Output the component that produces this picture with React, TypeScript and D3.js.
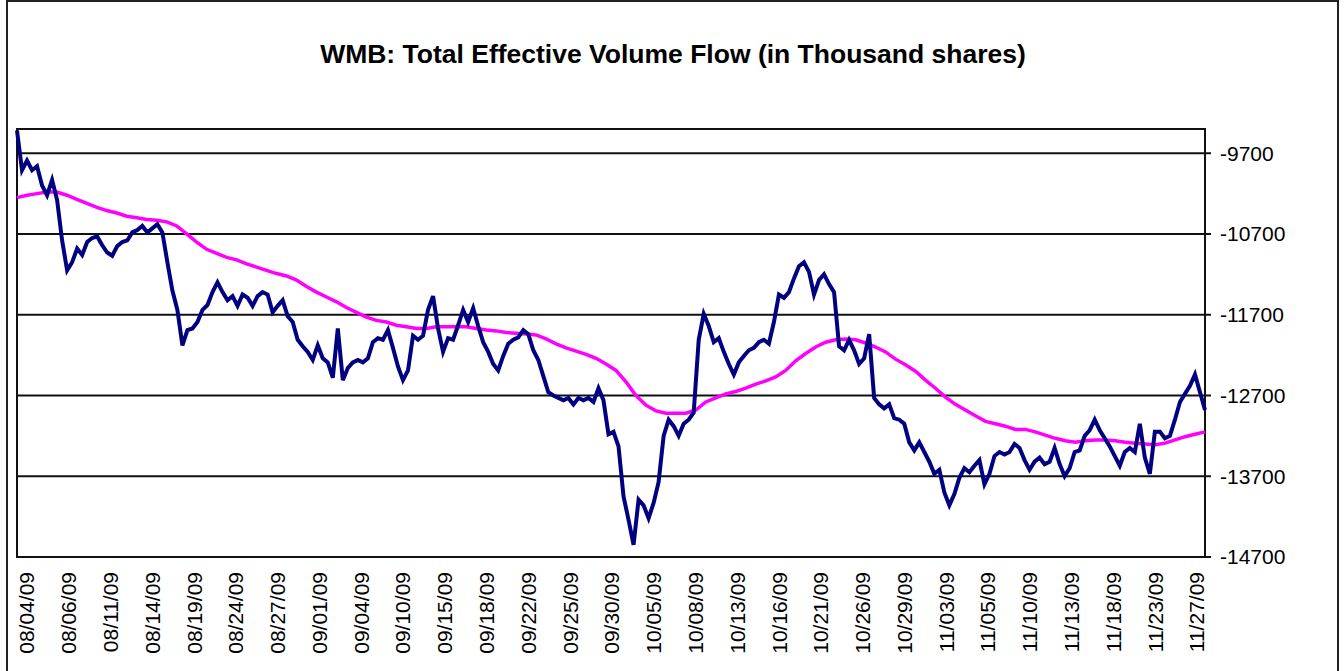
import React from "react";
import * as d3 from "d3";

/* DATA */
const title = "WMB: Total Effective Volume Flow (in Thousand shares)";

const dateLabels = [
  "08/04/09", "08/06/09", "08/11/09", "08/14/09", "08/19/09", "08/24/09",
  "08/27/09", "09/01/09", "09/04/09", "09/10/09", "09/15/09", "09/18/09",
  "09/22/09", "09/25/09", "09/30/09", "10/05/09", "10/08/09", "10/13/09",
  "10/16/09", "10/21/09", "10/26/09", "10/29/09", "11/03/09", "11/05/09",
  "11/10/09", "11/13/09", "11/18/09", "11/23/09", "11/27/09",
];

const yTicks = [-9700, -10700, -11700, -12700, -13700, -14700];
const yMin = -14700;
const yMax = -9400;

// total effective volume flow, sampled evenly across the period
const volumeFlow = [
  -9420, -9910, -9790, -9910, -9860, -10100, -10220, -10030, -10280, -10780,
  -11150, -11050, -10880, -10960, -10800, -10750, -10730, -10840, -10930, -10970,
  -10850, -10800, -10780, -10680, -10650, -10600, -10680, -10630, -10580, -10680,
  -11050, -11400, -11640, -12080, -11890, -11870, -11790, -11640, -11580, -11420,
  -11300, -11420, -11520, -11470, -11590, -11450, -11490, -11590, -11470, -11420,
  -11450, -11670, -11590, -11520, -11720, -11790, -12010, -12090, -12160, -12260,
  -12080, -12240, -12290, -12480, -11870, -12510, -12360, -12290, -12260, -12290,
  -12240, -12040, -11990, -12010, -11890, -12110, -12340, -12510, -12390, -11960,
  -12010, -11960, -11640, -11470, -11870, -12160, -11990, -12010, -11830, -11640,
  -11790, -11620, -11840, -12040, -12160, -12310, -12390, -12210, -12060, -12010,
  -11980, -11890, -11940, -12140, -12260, -12460, -12660, -12700, -12730, -12760,
  -12730, -12810, -12730, -12760, -12730, -12780, -12610, -12760, -13180, -13150,
  -13330, -13950, -14240, -14550, -13990, -14060, -14220, -14030, -13770, -13200,
  -13000, -13080, -13200, -13050, -13000, -12910, -12010, -11690, -11840, -12040,
  -11990, -12160, -12310, -12440, -12290, -12210, -12140, -12110, -12040, -12010,
  -12060, -11790, -11450, -11490, -11420, -11250, -11100, -11050, -11170, -11450,
  -11270, -11200, -11320, -11420, -12090, -12140, -12010, -12140, -12310, -12240,
  -11940, -12730, -12810, -12860, -12810, -12980, -13000, -13050, -13280, -13380,
  -13280, -13400, -13520, -13670, -13620, -13900, -14060, -13920, -13720, -13600,
  -13650, -13570, -13500, -13800, -13670, -13450, -13400, -13430, -13400, -13300,
  -13350, -13500, -13620, -13520, -13470, -13550, -13520, -13350, -13550, -13700,
  -13600, -13400, -13380, -13200, -13130, -13000, -13130, -13230, -13330, -13450,
  -13570, -13400, -13350, -13400, -13050, -13470, -13670, -13150, -13150, -13230,
  -13200, -13000, -12780, -12680, -12580, -12440, -12660, -12880,
];

// moving average of the flow, sampled evenly across the same period
const movingAverage = [
  -10250, -10220, -10200, -10180, -10180, -10220, -10270, -10320, -10370, -10410,
  -10440, -10480, -10500, -10520, -10530, -10550, -10600, -10700, -10800, -10890,
  -10940, -10990, -11020, -11070, -11110, -11150, -11190, -11220, -11270, -11350,
  -11420, -11480, -11540, -11610, -11670, -11730, -11770, -11790, -11830, -11850,
  -11870, -11870, -11850, -11850, -11850, -11850, -11870, -11890, -11900, -11920,
  -11930, -11940, -11950, -12000, -12060, -12110, -12150, -12190, -12240, -12310,
  -12390, -12530, -12700, -12820, -12890, -12920, -12920, -12920, -12880, -12780,
  -12730, -12680, -12650, -12610, -12560, -12520, -12470, -12390, -12270, -12180,
  -12100, -12040, -12010, -12000, -12010, -12050, -12100, -12160, -12250, -12320,
  -12400, -12510, -12610, -12720, -12810, -12880, -12950, -13020, -13050, -13080,
  -13120, -13120, -13150, -13190, -13230, -13260, -13280, -13260, -13250, -13250,
  -13260, -13280, -13290, -13300, -13310, -13290, -13250, -13210, -13180, -13150,
];

const W = 1344;
const H = 671;
const plot = { left: 17, right: 1205, top: 129, bottom: 557 };
const font = "Arial, 'Liberation Sans', sans-serif";

function App() {
  const y = d3.scaleLinear().domain([yMin, yMax]).range([plot.bottom, plot.top]);
  const xFlow = d3
    .scaleLinear()
    .domain([0, volumeFlow.length - 1])
    .range([plot.left, plot.right]);
  const xAvg = d3
    .scaleLinear()
    .domain([0, movingAverage.length - 1])
    .range([plot.left, plot.right]);
  const xDates = d3
    .scalePoint<string>()
    .domain(dateLabels)
    .range([plot.left + 10, plot.right - 8]);

  const flowLine = d3
    .line<number>()
    .x((_, i) => xFlow(i))
    .y((d) => y(d));
  const avgLine = d3
    .line<number>()
    .x((_, i) => xAvg(i))
    .y((d) => y(d));

  return (
    <svg
      width={W}
      height={H}
      style={{ position: "absolute", left: 0, top: 0, background: "#fff" }}
    >
      {/* chart frame */}
      <rect x={7} y={1} width={1331} height={H + 10} fill="#fff" stroke="#222" strokeWidth={2} />

      <text
        x={673}
        y={63}
        textAnchor="middle"
        fontFamily={font}
        fontWeight="bold"
        fontSize={26.5}
        fill="#000"
      >
        {title}
      </text>

      {/* gridlines and right axis ticks */}
      {yTicks.map((t) => (
        <g key={t}>
          <line
            x1={plot.left}
            x2={plot.right + 6}
            y1={y(t)}
            y2={y(t)}
            stroke="#111"
            strokeWidth={2}
          />
          <text
            x={plot.right + 15}
            y={y(t)}
            dy="0.35em"
            fontFamily={font}
            fontSize={21}
            fill="#000"
          >
            {t}
          </text>
        </g>
      ))}

      <rect
        x={plot.left}
        y={plot.top}
        width={plot.right - plot.left}
        height={plot.bottom - plot.top}
        fill="none"
        stroke="#111"
        strokeWidth={2}
      />

      <path d={avgLine(movingAverage) || ""} fill="none" stroke="#ff00ff" strokeWidth={3.5} />
      <path
        d={flowLine(volumeFlow) || ""}
        fill="none"
        stroke="#000080"
        strokeWidth={4}
        strokeLinejoin="miter"
      />

      {/* date labels */}
      {dateLabels.map((d) => (
        <text
          key={d}
          transform={`translate(${xDates(d)},${plot.bottom + 15}) rotate(-90)`}
          textAnchor="end"
          dy="0.35em"
          fontFamily={font}
          fontSize={21}
          fill="#000"
        >
          {d}
        </text>
      ))}
    </svg>
  );
}

export default App;
